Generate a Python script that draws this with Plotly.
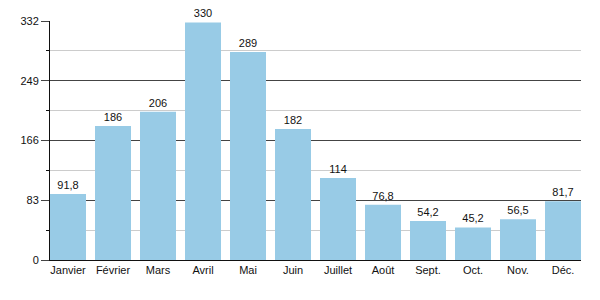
import plotly.graph_objects as go

months = ["Janvier", "Février", "Mars", "Avril", "Mai", "Juin", "Juillet",
          "Août", "Sept.", "Oct.", "Nov.", "Déc."]
values = [91.8, 186, 206, 330, 289, 182, 114, 76.8, 54.2, 45.2, 56.5, 81.7]
labels = ["91,8", "186", "206", "330", "289", "182", "114", "76,8", "54,2",
          "45,2", "56,5", "81,7"]
yticks = [0, 83, 166, 249, 332]

fig = go.Figure(go.Bar(
    x=months, y=values, text=labels, textposition="outside",
    textfont=dict(family="Liberation Sans, Arial", size=11, color="#111"),
    marker=dict(color="#98cbe6", line=dict(width=0)),
    cliponaxis=False, width=0.8,
))

fig.update_layout(
    width=600, height=300,
    margin=dict(l=50, r=19, t=21, b=40),
    plot_bgcolor="white", paper_bgcolor="white",
    showlegend=False,
    font=dict(family="Liberation Sans, Arial", size=11, color="#111"),
)
fig.update_xaxes(
    range=[-0.4, 11.4], showgrid=False, showline=True, linecolor="#111",
    linewidth=1, ticks="", tickfont=dict(size=11),
)
fig.update_yaxes(
    range=[0, 332], tickvals=yticks, ticktext=[str(v) for v in yticks],
    showgrid=True, gridcolor="#444", gridwidth=1,
    showline=True, linecolor="#111", linewidth=1,
    ticks="outside", ticklen=8, tickcolor="#444",
    minor=dict(tickvals=[41.5, 124.5, 207.5, 290.5], showgrid=True,
               gridcolor="#cccccc", ticks="outside", ticklen=3, tickcolor="#111"),
    zeroline=False, tickfont=dict(size=11),
)

fig.write_html("out.html")
